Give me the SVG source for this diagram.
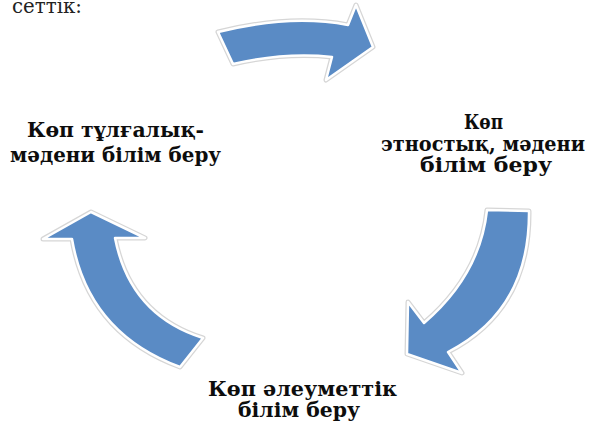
<svg xmlns="http://www.w3.org/2000/svg" xmlns:xlink="http://www.w3.org/1999/xlink" width="590" height="423" viewBox="0 0 590 423">
<style>
.t{font-family:"DejaVu Serif","Liberation Serif",serif;font-weight:bold;font-size:20.5px;fill:#0d0d0d}
.p{font-family:"DejaVu Serif","Liberation Serif",serif;font-size:21px;fill:#222}
.ao{fill:none;stroke:#d6d6d6;stroke-width:5;stroke-linejoin:round}
.ai{fill:#5a8bc5;stroke:#fff;stroke-width:2.5;stroke-linejoin:round}
</style>
<rect width="590" height="423" fill="#fff"/>
<text class="p" x="12" y="13" textLength="70" lengthAdjust="spacingAndGlyphs">сеттік:</text>
<g id="connectors">
<g id="arrow-top">
<path class="ao" d="M218,32 Q290,14 348,25 L356,5 L373,47 L326,80 L332,57 Q285,52 233,64 Z"/>
<path class="ai" d="M218,32 Q290,14 348,25 L356,5 L373,47 L326,80 L332,57 Q285,52 233,64 Z"/>
</g>
<g id="arrow-right">
<path class="ao" d="M487,210 L529,211 Q530,310 448,352 L462,373 L407,354 L408,302 L424,323 Q480,275 487,210 Z"/>
<path class="ai" d="M487,210 L529,211 Q530,310 448,352 L462,373 L407,354 L408,302 L424,323 Q480,275 487,210 Z"/>
</g>
<g id="arrow-left">
<path class="ao" d="M91,212 L145,238 L115,238 Q130,315 203,338 L180,367 Q88,333 72,239 L43,239 Z"/>
<path class="ai" d="M91,212 L145,238 L115,238 Q130,315 203,338 L180,367 Q88,333 72,239 L43,239 Z"/>
</g>
</g>
<g id="node-left">
<text class="t" x="27" y="137" textLength="177" lengthAdjust="spacingAndGlyphs">Көп тұлғалық-</text>
<text class="t" x="10" y="162" textLength="211" lengthAdjust="spacingAndGlyphs">мәдени білім беру</text>
</g>
<g id="node-right">
<text class="t" x="464" y="129" textLength="39" lengthAdjust="spacingAndGlyphs">Көп</text>
<text class="t" x="381" y="151" textLength="204" lengthAdjust="spacingAndGlyphs">этностық, мәдени</text>
<text class="t" x="420" y="172" textLength="132" lengthAdjust="spacingAndGlyphs">білім беру</text>
</g>
<g id="node-bottom">
<text class="t" x="208" y="396" textLength="189" lengthAdjust="spacingAndGlyphs">Көп әлеуметтік</text>
<text class="t" x="238" y="417" textLength="122" lengthAdjust="spacingAndGlyphs">білім беру</text>
</g>
</svg>
